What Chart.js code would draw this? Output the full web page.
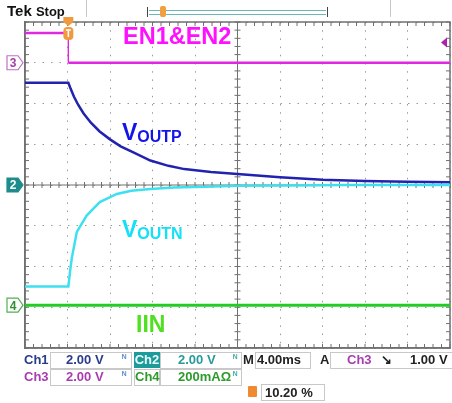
<!DOCTYPE html>
<html lang="en">
<head>
<meta charset="UTF-8">
<title>EN1&EN2 shutdown waveform</title>
<script src="https://cdn.jsdelivr.net/npm/chart.js"></script>
<style>
    body { margin: 0; background: #fff; font-family: 'Liberation Sans', Arial, sans-serif; }
    #wrap { position: relative; width: 452px; height: 403px; overflow: hidden; }
    canvas { position: absolute; left: 0; top: 0; }
    .t { position: absolute; white-space: nowrap; line-height: 1; font-weight: bold; }
    .ft { position: absolute; white-space: nowrap; font: bold 13px 'Liberation Sans', Arial, sans-serif; line-height: 16px; }
    .box { position: absolute; border: 1px solid #c8c8c8; box-sizing: border-box; }
    .sep { position: absolute; width: 1px; background: #c8c8c8; }
</style>
</head>
<body>
<div id="wrap">
    <canvas id="scope" width="452" height="403"></canvas>

    <!-- header -->
    <div class="t" style="left:7px;top:3px;font-size:15px;color:#111;">Tek <span style="font-size:13px;font-weight:bold;">Stop</span></div>
    <div class="sep" style="left:86px;top:0;height:17px;"></div>
    <div class="sep" style="left:390px;top:0;height:17px;"></div>
    <div style="position:absolute;left:147px;top:7px;width:181px;height:10px;border-left:1.5px solid #444;border-right:1.5px solid #444;box-sizing:border-box;"></div>
    <div style="position:absolute;left:149px;top:10px;width:177px;height:3px;border-top:1px solid #6cb8b8;border-bottom:1px solid #6cb8b8;"></div>
    <div style="position:absolute;left:160px;top:6px;width:6px;height:11px;background:#f0a040;border-radius:2px;"></div>

    <!-- trace labels -->
    <div class="t" style="left:123px;top:25px;font-size:23.5px;color:#ff10ff;">EN1&amp;EN2</div>
    <div class="t" style="left:122px;top:120.5px;font-size:23px;color:#1414e8;">V<span style="font-size:16px;position:relative;top:2px;">OUTP</span></div>
    <div class="t" style="left:122px;top:217.5px;font-size:23px;color:#14e0f8;">V<span style="font-size:16px;position:relative;top:2px;">OUTN</span></div>
    <div class="t" style="left:136px;top:312.5px;font-size:23px;color:#50e020;">IIN</div>

    <!-- footer row 1 -->
    <div class="ft" style="left:24px;top:352px;color:#283c8c;">Ch1</div>
    <div class="box" style="left:50px;top:352px;width:82px;height:17px;"></div>
    <div class="ft" style="left:66px;top:352px;color:#283c8c;">2.00 V</div>
    <div class="ft" style="left:122px;top:350px;font-size:10px;color:#5a8ad0;">ᴺ</div>
    <div class="ft" style="left:134px;top:352px;width:26px;height:16px;background:#1e9a9a;color:#e8ffff;text-align:center;">Ch2</div>
    <div class="box" style="left:160px;top:352px;width:82px;height:17px;"></div>
    <div class="ft" style="left:178px;top:352px;color:#289a9a;">2.00 V</div>
    <div class="ft" style="left:233px;top:350px;font-size:10px;color:#40a8a8;">ᴺ</div>
    <div class="ft" style="left:243px;top:352px;color:#222;">M</div>
    <div class="box" style="left:255px;top:352px;width:56px;height:17px;"></div>
    <div class="ft" style="left:257px;top:352px;color:#222;">4.00ms</div>
    <div class="ft" style="left:320px;top:352px;color:#222;">A</div>
    <div class="box" style="left:330px;top:352px;width:124px;height:17px;"></div>
    <div class="ft" style="left:347px;top:352px;color:#a83cb0;">Ch3</div>
    <div class="ft" style="left:381px;top:352px;color:#222;">↘</div>
    <div class="ft" style="left:410px;top:352px;color:#222;">1.00 V</div>

    <!-- footer row 2 -->
    <div class="ft" style="left:24px;top:369px;color:#a83cb0;">Ch3</div>
    <div class="box" style="left:50px;top:369px;width:82px;height:17px;"></div>
    <div class="ft" style="left:66px;top:369px;color:#a83cb0;">2.00 V</div>
    <div class="ft" style="left:122px;top:367px;font-size:10px;color:#5a8ad0;">ᴺ</div>
    <div class="box" style="left:134px;top:369px;width:26px;height:17px;"></div>
    <div class="ft" style="left:135px;top:369px;color:#2c9a2c;">Ch4</div>
    <div class="box" style="left:160px;top:369px;width:82px;height:17px;"></div>
    <div class="ft" style="left:178px;top:369px;color:#2c9a2c;">200mAΩ</div>
    <div class="ft" style="left:233px;top:367px;font-size:10px;color:#40a8a8;">ᴺ</div>

    <!-- footer row 3 -->
    <div style="position:absolute;left:248px;top:386px;width:9px;height:11px;background:#f08a30;border-radius:1px;"></div>
    <div class="box" style="left:261px;top:384px;width:64px;height:17px;"></div>
    <div class="ft" style="left:265px;top:385px;color:#222;">10.20 %</div>
</div>

<script>
    // time axis: 4 ms/div, 10 div; vertical values in screen divisions (8 div)
    const xTicks = [0, 4, 8, 12, 16, 20, 24, 28, 32, 36, 40];
    const yTicks = [-4, -3, -2, -1, 0, 1, 2, 3, 4];
    const triggerTime = 4.08;

    // EN1&EN2 (Ch3)
    const enTime = [0, 4.08, 4.08, 40];
    const enDiv = [3.73, 3.73, 3.0, 3.0];

    // VOUTP (Ch1)
    const vpTime = [0, 4.08, 4.3, 4.6, 5.0, 5.5, 6.2, 7.0, 8.0, 9.0, 10.2, 11.8, 13.5, 15.0, 17.5, 20.0, 24.0, 28.0, 32.0, 36.0, 40.0];
    const vpDiv = [2.51, 2.51, 2.36, 2.17, 1.97, 1.76, 1.53, 1.32, 1.12, 0.95, 0.80, 0.60, 0.47, 0.39, 0.32, 0.27, 0.19, 0.13, 0.10, 0.08, 0.07];

    // VOUTN (Ch2)
    const vnTime = [0, 4.08, 4.25, 4.4, 4.88, 5.8, 7.04, 8.64, 10.0, 11.8, 14.0, 17.0, 20.0, 25.0, 30.0, 40.0];
    const vnDiv = [-2.49, -2.49, -2.1, -1.80, -1.15, -0.75, -0.42, -0.22, -0.14, -0.10, -0.06, -0.04, -0.02, -0.01, 0, 0];

    // IIN (Ch4)
    const iinTime = [0, 40];
    const iinDiv = [-2.95, -2.95];

    // channel ground markers (div) and trigger level
    const markerLabels = ['3', '2', '4'];
    const markerDiv = [3.0, 0, -2.95];
    const trigLevelDiv = 3.5;

    const pts = (xs, ys) => xs.map((x, i) => ({ x: x, y: ys[i] }));

    const gridColor = '#9a9a9a';
    const frameColor = '#707070';

    const scopeDecor = {
        id: 'scopeDecor',
        beforeDatasetsDraw(chart) {
            const { ctx, chartArea: a, scales: { x, y } } = chart;
            ctx.save();
            ctx.strokeStyle = frameColor;
            ctx.lineWidth = 1;
            // centre crosshair
            const cx = x.getPixelForValue(20), cy = y.getPixelForValue(0);
            ctx.beginPath();
            ctx.moveTo(cx, a.top); ctx.lineTo(cx, a.bottom);
            ctx.moveTo(a.left, cy); ctx.lineTo(a.right, cy);
            // minor ticks every 1/5 div
            for (let t = 0; t <= 40.001; t += 0.8) {
                const px = x.getPixelForValue(t);
                ctx.moveTo(px, cy - 3); ctx.lineTo(px, cy + 3);
                ctx.moveTo(px, a.top); ctx.lineTo(px, a.top + 4);
                ctx.moveTo(px, a.bottom); ctx.lineTo(px, a.bottom - 4);
            }
            for (let v = -4; v <= 4.001; v += 0.2) {
                const py = y.getPixelForValue(v);
                ctx.moveTo(cx - 3, py); ctx.lineTo(cx + 3, py);
                ctx.moveTo(a.left, py); ctx.lineTo(a.left + 4, py);
                ctx.moveTo(a.right, py); ctx.lineTo(a.right - 4, py);
            }
            ctx.stroke();
            // frame
            ctx.lineWidth = 1.5;
            ctx.strokeRect(a.left, a.top, a.right - a.left, a.bottom - a.top);
            ctx.restore();
        },
        afterDatasetsDraw(chart) {
            const { ctx, chartArea: a, scales: { x, y } } = chart;
            ctx.save();
            // channel markers on the left
            const styles = [
                { fill: '#ffffff', stroke: '#c070c8', text: '#a040a8' },
                { fill: '#1e8c8c', stroke: '#1e8c8c', text: '#ffffff' },
                { fill: '#ffffff', stroke: '#50b050', text: '#309030' }
            ];
            markerDiv.forEach((d, i) => {
                const py = y.getPixelForValue(d);
                const s = styles[i];
                ctx.beginPath();
                ctx.moveTo(7, py - 7); ctx.lineTo(18, py - 7); ctx.lineTo(23, py);
                ctx.lineTo(18, py + 7); ctx.lineTo(7, py + 7); ctx.closePath();
                ctx.fillStyle = s.fill; ctx.fill();
                ctx.strokeStyle = s.stroke; ctx.lineWidth = 1.2; ctx.stroke();
                ctx.fillStyle = s.text;
                ctx.font = 'bold 12px "Liberation Sans", Arial, sans-serif';
                ctx.textAlign = 'center'; ctx.textBaseline = 'middle';
                ctx.fillText(markerLabels[i], 13, py + 1);
            });
            // trigger position marker (top) and on the EN trace
            const tx = x.getPixelForValue(triggerTime);
            ctx.fillStyle = '#f09a40';
            ctx.beginPath();
            ctx.moveTo(tx - 5, a.top - 5); ctx.lineTo(tx + 5, a.top - 5);
            ctx.lineTo(tx + 5, a.top); ctx.lineTo(tx, a.top + 4); ctx.lineTo(tx - 5, a.top); ctx.closePath();
            ctx.fill();
            const ty = y.getPixelForValue(enDiv[0]);
            ctx.beginPath();
            ctx.roundRect(tx - 5, ty - 6, 10, 13, 4);
            ctx.fill();
            ctx.strokeStyle = '#ffffff'; ctx.lineWidth = 1.5;
            ctx.beginPath();
            ctx.moveTo(tx - 2.5, ty - 3); ctx.lineTo(tx + 2.5, ty - 3);
            ctx.moveTo(tx, ty - 3); ctx.lineTo(tx, ty + 4);
            ctx.stroke();
            // trigger level marker (right)
            const ly = y.getPixelForValue(trigLevelDiv);
            ctx.fillStyle = '#b020b0';
            ctx.beginPath();
            ctx.moveTo(a.right - 9, ly); ctx.lineTo(a.right - 3, ly - 5); ctx.lineTo(a.right - 3, ly + 5); ctx.closePath();
            ctx.fill();
            ctx.restore();
        }
    };

    const ctx = document.getElementById('scope').getContext('2d');
    const scopeChart = new Chart(ctx, {
        type: 'line',
        data: {
            datasets: [
                {
                    label: 'IIN', data: pts(iinTime, iinDiv),
                    borderColor: '#22cc22', borderWidth: 3
                },
                {
                    label: 'EN1&EN2', data: pts(enTime, enDiv),
                    borderColor: '#e028e0', borderWidth: 2.5,
                    segment: { borderWidth: c => c.p0.parsed.x === c.p1.parsed.x ? 1 : 2.5 }
                },
                {
                    label: 'VOUTN', data: pts(vnTime, vnDiv),
                    borderColor: '#3ee0f0', borderWidth: 2.5
                },
                {
                    label: 'VOUTP', data: pts(vpTime, vpDiv),
                    borderColor: '#2222b0', borderWidth: 2.5
                }
            ]
        },
        options: {
            responsive: false,
            animation: false,
            layout: { padding: { left: 25, top: 22, right: 2, bottom: 55 } },
            elements: { point: { radius: 0 }, line: { tension: 0 } },
            plugins: { legend: { display: false }, tooltip: { enabled: false } },
            scales: {
                x: {
                    type: 'linear', min: 0, max: 40,
                    afterBuildTicks: s => { s.ticks = xTicks.map(v => ({ value: v })); },
                    ticks: { display: false },
                    grid: { color: gridColor, lineWidth: 1, drawTicks: false },
                    border: { display: true, color: frameColor, width: 1.5, dash: [1.5, 6.7] }
                },
                y: {
                    type: 'linear', min: -4, max: 4,
                    afterBuildTicks: s => { s.ticks = yTicks.map(v => ({ value: v })); },
                    ticks: { display: false },
                    grid: { color: gridColor, lineWidth: 1, drawTicks: false },
                    border: { display: true, color: frameColor, width: 1.5, dash: [1.5, 7] }
                }
            }
        },
        plugins: [scopeDecor]
    });
</script>
</body>
</html>
